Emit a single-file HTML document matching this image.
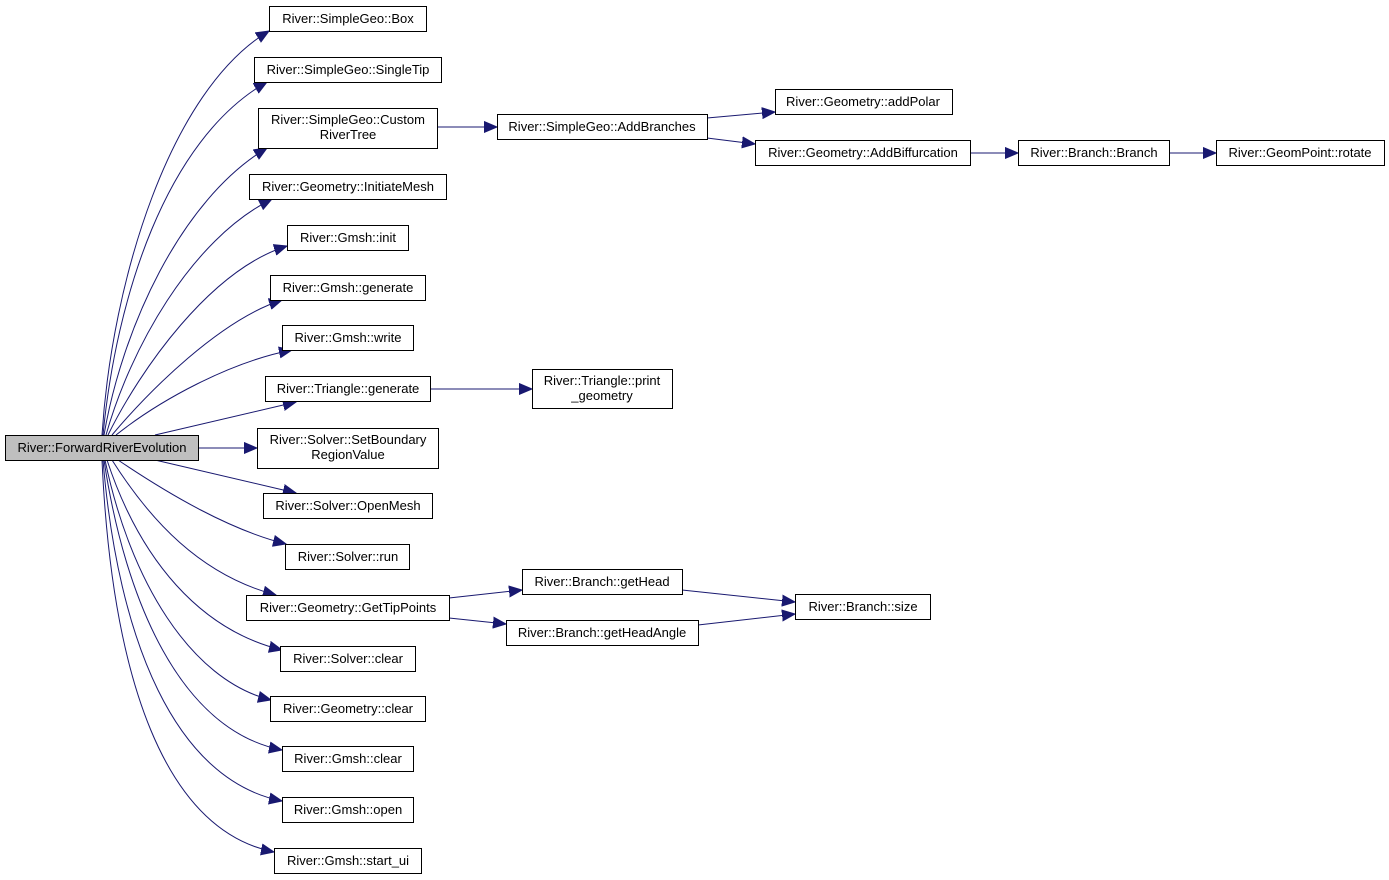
<!DOCTYPE html>
<html><head><meta charset="utf-8"><style>
html,body{margin:0;padding:0;background:#fff;}
svg{display:block;}
text{font-family:"Liberation Sans",Arial,sans-serif;font-size:13px;fill:#000;text-anchor:middle;}
.b{fill:#fff;stroke:#000;stroke-width:1;}
.e{fill:none;stroke:#191970;stroke-width:1;}
</style></head><body>
<svg width="1389" height="880" viewBox="0 0 1389 880" xmlns="http://www.w3.org/2000/svg">
<defs><marker id="a" markerUnits="userSpaceOnUse" markerWidth="14" markerHeight="12" refX="13" refY="6" orient="auto"><path d="M0,0.5 L13,6 L0,11.5 Z" fill="#191970" stroke="#191970"/></marker></defs>
<g marker-end="url(#a)">
<path class="e" d="M102,435 C112,280 170,90 269,31"/>
<path class="e" d="M103,435 C116,300 165,140 267,82"/>
<path class="e" d="M104,435 C122,330 180,200 267,148"/>
<path class="e" d="M106,435 C130,350 190,240 272,199"/>
<path class="e" d="M108,435 C140,370 210,270 287,246"/>
<path class="e" d="M112,435 C150,390 220,320 282,300"/>
<path class="e" d="M116,435 C160,400 230,362 292,350"/>
<path class="e" d="M155,435 L296,402"/>
<path class="e" d="M198,448 L257,448"/>
<path class="e" d="M155,460 L296,493"/>
<path class="e" d="M118,460 C170,495 230,530 286,544"/>
<path class="e" d="M112,460 C150,520 200,575 276,595"/>
<path class="e" d="M107,460 C140,560 200,630 282,650"/>
<path class="e" d="M105,460 C130,580 190,680 271,700"/>
<path class="e" d="M104,460 C125,600 180,730 282,750"/>
<path class="e" d="M103,460 C118,640 175,780 282,801"/>
<path class="e" d="M102,460 C112,680 165,830 274,852"/>
<path class="e" d="M437,127 L497,127"/>
<path class="e" d="M707,118 L775,112"/>
<path class="e" d="M707,138 L755,144"/>
<path class="e" d="M970,153 L1018,153"/>
<path class="e" d="M1169,153 L1216,153"/>
<path class="e" d="M430,389 L532,389"/>
<path class="e" d="M449,598 L522,590"/>
<path class="e" d="M449,618 L506,624"/>
<path class="e" d="M682,590 L795,602"/>
<path class="e" d="M698,625 L795,614"/>
</g>
<rect x="5.5" y="435.5" width="193" height="25" fill="#bfbfbf" stroke="#000"/><text x="102" y="452">River::ForwardRiverEvolution</text>
<rect class="b" x="269.5" y="6.5" width="157" height="25"/><text x="348" y="23">River::SimpleGeo::Box</text>
<rect class="b" x="254.5" y="57.5" width="187" height="25"/><text x="348" y="74">River::SimpleGeo::SingleTip</text>
<rect class="b" x="258.5" y="108.5" width="179" height="40"/><text x="348" y="124">River::SimpleGeo::Custom</text><text x="348" y="139">RiverTree</text>
<rect class="b" x="249.5" y="174.5" width="197" height="25"/><text x="348" y="191">River::Geometry::InitiateMesh</text>
<rect class="b" x="287.5" y="225.5" width="121" height="25"/><text x="348" y="242">River::Gmsh::init</text>
<rect class="b" x="270.5" y="275.5" width="155" height="25"/><text x="348" y="292">River::Gmsh::generate</text>
<rect class="b" x="282.5" y="325.5" width="131" height="25"/><text x="348" y="342">River::Gmsh::write</text>
<rect class="b" x="265.5" y="376.5" width="165" height="25"/><text x="348" y="393">River::Triangle::generate</text>
<rect class="b" x="257.5" y="428.5" width="181" height="40"/><text x="348" y="444">River::Solver::SetBoundary</text><text x="348" y="459">RegionValue</text>
<rect class="b" x="263.5" y="493.5" width="169" height="25"/><text x="348" y="510">River::Solver::OpenMesh</text>
<rect class="b" x="285.5" y="544.5" width="124" height="25"/><text x="348" y="561">River::Solver::run</text>
<rect class="b" x="246.5" y="595.5" width="203" height="25"/><text x="348" y="612">River::Geometry::GetTipPoints</text>
<rect class="b" x="280.5" y="646.5" width="135" height="25"/><text x="348" y="663">River::Solver::clear</text>
<rect class="b" x="270.5" y="696.5" width="155" height="25"/><text x="348" y="713">River::Geometry::clear</text>
<rect class="b" x="282.5" y="746.5" width="131" height="25"/><text x="348" y="763">River::Gmsh::clear</text>
<rect class="b" x="282.5" y="797.5" width="131" height="25"/><text x="348" y="814">River::Gmsh::open</text>
<rect class="b" x="274.5" y="848.5" width="147" height="25"/><text x="348" y="865">River::Gmsh::start_ui</text>
<rect class="b" x="497.5" y="114.5" width="210" height="25"/><text x="602" y="131">River::SimpleGeo::AddBranches</text>
<rect class="b" x="775.5" y="89.5" width="177" height="25"/><text x="863" y="106">River::Geometry::addPolar</text>
<rect class="b" x="755.5" y="140.5" width="215" height="25"/><text x="863" y="157">River::Geometry::AddBiffurcation</text>
<rect class="b" x="1018.5" y="140.5" width="151" height="25"/><text x="1094" y="157">River::Branch::Branch</text>
<rect class="b" x="1216.5" y="140.5" width="168" height="25"/><text x="1300" y="157">River::GeomPoint::rotate</text>
<rect class="b" x="532.5" y="369.5" width="140" height="39"/><text x="602" y="385">River::Triangle::print</text><text x="602" y="400">_geometry</text>
<rect class="b" x="522.5" y="569.5" width="160" height="25"/><text x="602" y="586">River::Branch::getHead</text>
<rect class="b" x="506.5" y="620.5" width="192" height="25"/><text x="602" y="637">River::Branch::getHeadAngle</text>
<rect class="b" x="795.5" y="594.5" width="135" height="25"/><text x="863" y="611">River::Branch::size</text>
</svg>
</body></html>
